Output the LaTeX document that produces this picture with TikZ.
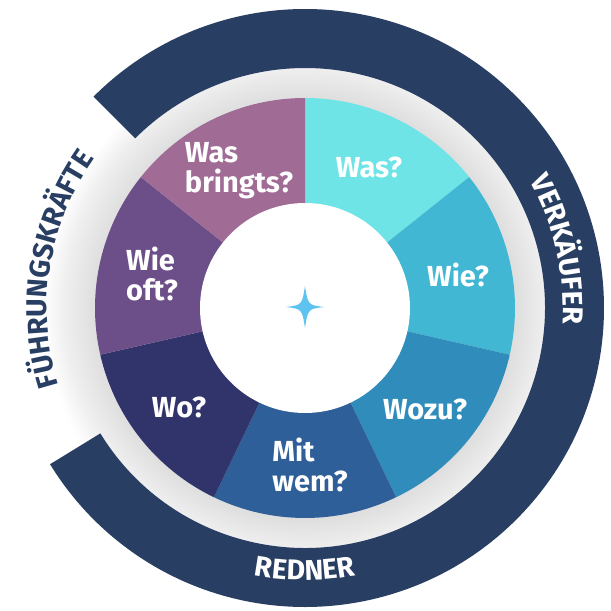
\documentclass[tikz,border=0pt]{standalone}
\usepackage{fontspec}
\setmainfont{Fira Sans}
\usetikzlibrary{decorations.text}

\definecolor{ringdark}{HTML}{283F63}
\definecolor{segwas}{HTML}{6EE4E6}
\definecolor{segwie}{HTML}{42B7D4}
\definecolor{segwozu}{HTML}{2F8CBB}
\definecolor{segmit}{HTML}{2F5F98}
\definecolor{segwo}{HTML}{31346B}
\definecolor{segoft}{HTML}{6C4F88}
\definecolor{segbringt}{HTML}{A06C96}
\definecolor{starblue}{HTML}{5EC3F0}
\definecolor{halogray}{HTML}{DEDEDE}
\definecolor{halolight}{HTML}{EFEFEF}

\pgfdeclareradialshading{halo}{\pgfpoint{0bp}{0bp}}{color(0bp)=(halogray); color(20bp)=(halogray); color(23bp)=(halolight); color(25bp)=(white); color(50bp)=(white)}

\newcommand\ringfont{\bfseries\fontsize{28.5}{28.5}\selectfont}

\begin{document}
\begin{tikzpicture}[
    x=1pt, y=1pt,
    seglabel/.style={text=white, font=\fontsize{29}{30}\selectfont\bfseries,
                     align=left, inner sep=0pt},
    ringtext/.style 2 args={decorate, decoration={text along path, text align=center,
                     text={|\ringfont\color{#1}|#2}}}
]
\useasboundingbox (-305,-303) rectangle (306,308);
\fill[white] (-305,-303) rectangle (306,308);

\shade[shading=halo] (0,0) circle[radius=262];
\fill[ringdark] (135:299) arc[start angle=135, end angle=-148.5, radius=299]
    -- (-148.5:240) arc[start angle=-148.5, end angle=135, radius=240] -- cycle;

\foreach \col/\a in {segwas/90, segwie/38.571, segwozu/-12.857, segmit/-64.286,
                     segwo/-115.714, segoft/-167.143, segbringt/-218.571}
  \fill[\col] (0,0) -- (\a:210) arc[start angle=\a, delta angle=-51.43, radius=210] -- cycle;

\fill[white] (0,0) circle[radius=105];
\fill[starblue] (0,22) .. controls (3,3) .. (19,1) .. controls (3,-1) .. (0,-20)
    .. controls (-3,-1) .. (-19,1) .. controls (-3,3) .. (0,22) -- cycle;

\node[seglabel] (was) at (64,141) {Was?};
\node[seglabel] (wie) at (153,33) {Wie?};
\node[seglabel] (wozu) at (120,-101) {Wozu?};
\node[seglabel] (mitwem) at (5,-157) {Mit\\wem?};
\node[seglabel] (wo) at (-126,-99) {Wo?};
\node[seglabel] (wieoft) at (-153,34) {Wie\\oft?};
\node[seglabel] (bringts) at (-66,137) {Was\\bringts?};

\path[ringtext={white}{VERKÄUFER}] (40:258) arc[start angle=40, end angle=-14, radius=258];
\path[ringtext={ringdark}{FÜHRUNGSKRÄFTE}] (210:258) arc[start angle=210, end angle=132, radius=258];
\path[ringtext={white}{REDNER}] (-115:272) arc[start angle=-115, end angle=-65, radius=272];

\end{tikzpicture}
\end{document}
